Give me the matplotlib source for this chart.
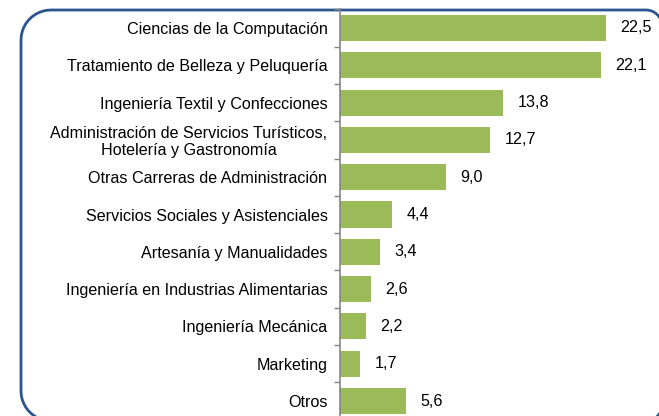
import matplotlib
matplotlib.use("Agg")
import matplotlib.pyplot as plt
import matplotlib.patches as mpatches
import matplotlib.transforms as mtransforms
from matplotlib.path import Path
import numpy as np

# ── Data ─────────────────────────────────────────────────────────────
categories = [
    "Ciencias de la Computación",
    "Tratamiento de Belleza y Peluquería",
    "Ingeniería Textil y Confecciones",
    "Administración de Servicios Turísticos,\nHotelería y Gastronomía",
    "Otras Carreras de Administración",
    "Servicios Sociales y Asistenciales",
    "Artesanía y Manualidades",
    "Ingeniería en Industrias Alimentarias",
    "Ingeniería Mecánica",
    "Marketing",
    "Otros",
]
values = [22.5, 22.1, 13.8, 12.7, 9.0, 4.4, 3.4, 2.6, 2.2, 1.7, 5.6]

BAR = "#9BBB59"
AXIS = "#868686"
BORDER = "#2B5590"
FS = 11.6

W, H = 659, 416
plt.rcParams["font.family"] = ["Liberation Sans", "DejaVu Sans"]
fig = plt.figure(figsize=(W / 100, H / 100), dpi=100, facecolor="white")

# axes placement in pixels (from top-left)
x0, x1 = 340, 650
ytop, ybot = 9.35, 419.65
ax = fig.add_axes([x0 / W, 1 - ybot / H, (x1 - x0) / W, (ybot - ytop) / H])

n = len(categories)
ys = np.arange(n)
ax.barh(ys, values, height=0.7, color=BAR, zorder=2)
ax.set_ylim(n - 0.5, -0.5)
ax.set_xlim(0, (x1 - x0) / 11.82)

for y, v in zip(ys, values):
    ax.text(v + 1.2, y, f"{v:.1f}".replace(".", ","), va="center", ha="left",
            fontsize=FS, color="black")

ax.set_yticks(ys)
ax.set_yticklabels(categories, fontsize=FS, multialignment="center",
                   linespacing=1.1)
ax.tick_params(axis="y", which="major", length=0, pad=9)
ax.set_yticks(np.arange(n + 1) - 0.5, minor=True)
ax.tick_params(axis="y", which="minor", length=4, color=AXIS, width=1)
ax.set_xticks([])
for s in ["top", "right", "bottom"]:
    ax.spines[s].set_visible(False)
ax.spines["left"].set_color(AXIS)
ax.spines["left"].set_linewidth(1.2)
ax.set_facecolor("none")


# ── Rounded frame (pixel coords, y from top) ─────────────────────────
def _arc(cx, cy, r, a0, a1, k=12):
    t = np.radians(np.linspace(a0, a1, k))
    return list(zip(cx + r * np.cos(t), cy + r * np.sin(t)))


L, R, T, B = 21, 662, 10, 421
rl, rr = 30, 16
pts = []
pts += _arc(L + rl, T + rl, rl, 180, 270)   # top-left
pts += _arc(R - rr, T + rr, rr, 270, 360)   # top-right
pts += _arc(R - rr, B - rr, rr, 0, 90)      # bottom-right
pts += _arc(L + rl, B - rl, rl, 90, 180)    # bottom-left
pts.append(pts[0])
pts = [(x, H - y) for x, y in pts]
frame = mpatches.PathPatch(
    Path(pts), facecolor="none", edgecolor=BORDER, linewidth=2,
    transform=mtransforms.IdentityTransform(), clip_on=False, zorder=0,
)
fig.add_artist(frame)

fig.savefig("out.png", dpi=100, facecolor="white")
